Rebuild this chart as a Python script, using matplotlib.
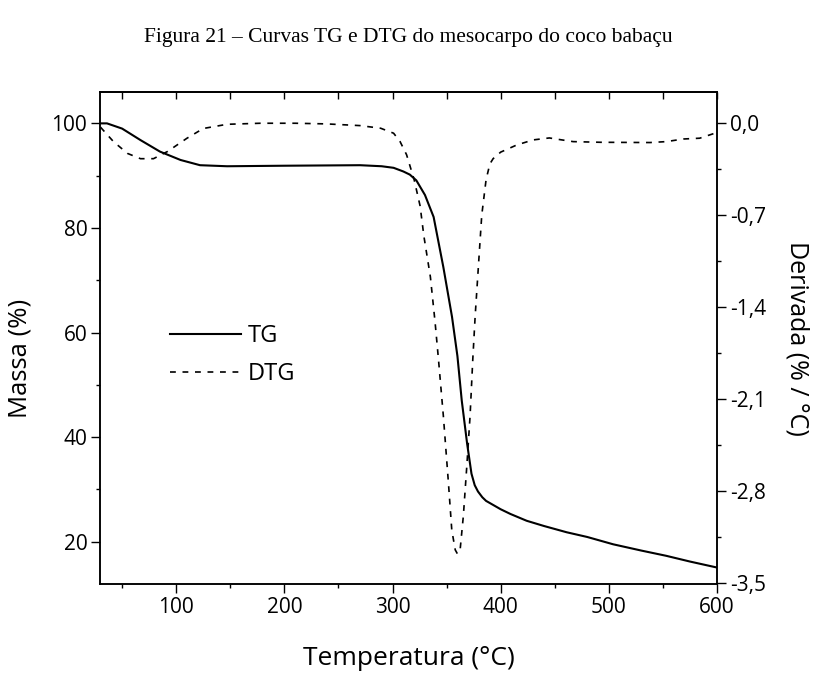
import numpy as np
import matplotlib
matplotlib.use('Agg')
import matplotlib.pyplot as plt
from matplotlib import ticker
from matplotlib.lines import Line2D

# TG curve: temperature (°C) and residual mass (%)
tg_temp = [30, 36, 50, 67, 85, 104, 122, 147, 200, 270, 290, 301, 310, 316, 322,
           330, 338, 347, 355, 360, 364, 369, 373, 376, 379, 383, 386.5, 400, 409,
           424, 440, 461, 480, 504, 530, 553, 575, 599]
tg_mass = [100.0, 100.0, 99.0, 96.8, 94.6, 93.0, 92.0, 91.8, 91.9, 92.0, 91.8, 91.5,
           90.8, 90.2, 89.1, 86.3, 82.1, 72.5, 63.0, 55.5, 47.0, 38.7, 33.0, 30.8,
           29.6, 28.5, 27.8, 26.2, 25.3, 24.0, 23.0, 21.8, 20.9, 19.5, 18.3, 17.3,
           16.2, 15.1]

# DTG curve: temperature (°C) and derivative (% / °C)
dtg_temp = [30, 42, 55, 67, 79, 92, 110, 125, 147, 178, 210, 239, 270, 289, 301, 307,
            313, 320, 325.5, 329, 335, 339.4, 342.5, 347, 351.7, 354.8, 358, 360,
            362.5, 365.5, 368.7, 371.7, 374.2, 376.4, 379.4, 382.5, 386.5, 390, 393,
            400, 415, 430, 445, 455, 467, 492, 538, 553, 569, 584, 598, 600]
dtg_val = [-0.03, -0.14, -0.23, -0.27, -0.27, -0.215, -0.114, -0.04, -0.008, 0.0, 0.0,
           -0.005, -0.018, -0.038, -0.076, -0.14, -0.24, -0.43, -0.63, -0.86, -1.17,
           -1.52, -1.80, -2.23, -2.74, -3.10, -3.25, -3.28, -3.25, -2.99, -2.61, -2.23,
           -1.80, -1.47, -1.09, -0.70, -0.43, -0.31, -0.27, -0.22, -0.165, -0.127,
           -0.112, -0.125, -0.14, -0.145, -0.147, -0.14, -0.12, -0.114, -0.076, -0.06]

left_ticks = [20, 40, 60, 80, 100]
right_ticks = [0.0, -0.7, -1.4, -2.1, -2.8, -3.5]

sans = ['Open Sans', 'DejaVu Sans']
plt.rcParams['font.family'] = sans

fig = plt.figure(figsize=(8.17, 6.73), dpi=100)
ax = fig.add_axes([0.123, 0.1322, 0.7546, 0.7311])
ax2 = ax.twinx()

ax.plot(tg_temp, tg_mass, color='black', lw=1.5)
ax2.plot(dtg_temp, dtg_val, color='black', lw=1.2, dashes=(3.5, 4))

ax.set_xlim(30, 600)
ax.set_ylim(11.9, 106)
ax2.set_ylim(-3.51, 0.238)

ax.xaxis.set_major_locator(ticker.FixedLocator([100, 200, 300, 400, 500, 600]))
ax.xaxis.set_minor_locator(ticker.FixedLocator([50, 150, 250, 350, 450, 550]))
ax.yaxis.set_major_locator(ticker.FixedLocator(left_ticks))
ax.yaxis.set_minor_locator(ticker.FixedLocator([30, 50, 70, 90]))
ax2.yaxis.set_major_locator(ticker.FixedLocator(right_ticks))
ax2.yaxis.set_minor_locator(ticker.FixedLocator([-0.35, -1.05, -1.75, -2.45, -3.15]))
ax2.yaxis.set_major_formatter(ticker.FuncFormatter(lambda v, p: f'{v:.1f}'.replace('.', ',')))

for a in (ax, ax2):
    for s in a.spines.values():
        s.set_linewidth(1.1)
    a.tick_params(which='major', length=6.5, width=1.0, labelsize=15, pad=3)
    a.tick_params(which='minor', length=3.2, width=1.0)

# inward ticks along the top edge
top = ax.secondary_xaxis('top')
top.xaxis.set_major_locator(ticker.FixedLocator([100, 200, 300, 400, 500, 600]))
top.xaxis.set_minor_locator(ticker.FixedLocator([50, 150, 250, 350, 450, 550]))
top.tick_params(which='both', direction='in', length=5, width=1.0, labeltop=False)
top.spines['top'].set_linewidth(1.1)

ax.set_xlabel('Temperatura (°C)', fontsize=19, labelpad=20)
ax.set_ylabel('Massa (%)', fontsize=18.5)
ax2.set_ylabel('Derivada (% / °C)', fontsize=18, rotation=-90, labelpad=31)
ax.yaxis.set_label_coords(-0.1095, 0.459)

handles = [Line2D([], [], color='black', lw=1.5),
           Line2D([], [], color='black', lw=1.2, dashes=(3.5, 4))]
ax.legend(handles, ['TG', 'DTG'], loc='center left', bbox_to_anchor=(0.113, 0.465),
          frameon=False, fontsize=17, handlelength=3.0, handletextpad=0.3,
          labelspacing=0.6, borderpad=0, borderaxespad=0)

fig.text(0.5, 0.945, 'Figura 21 – Curvas TG e DTG do mesocarpo do coco babaçu',
         ha='center', va='center', fontsize=15.5, family='Liberation Serif')

fig.savefig('out.png', dpi=100)
